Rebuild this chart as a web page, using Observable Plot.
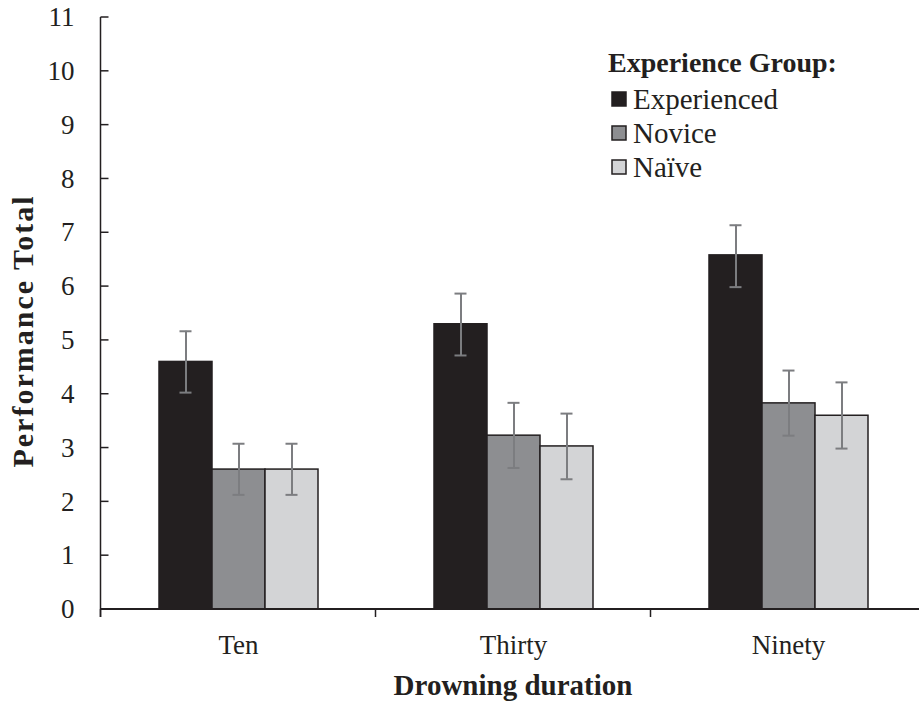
<!DOCTYPE html>
<html>
<head>
<meta charset="utf-8">
<script src="https://cdn.jsdelivr.net/npm/d3@7"></script>
<script src="https://cdn.jsdelivr.net/npm/@observablehq/plot@0.6"></script>
<style>
  html, body { margin: 0; padding: 0; background: #ffffff; }
  #chart { width: 919px; height: 702px; }
</style>
</head>
<body>
<div id="chart"></div>
<script>
// ---- data ----
const durations = ["Ten", "Thirty", "Ninety"];
const groups = ["Experienced", "Novice", "Naïve"];
const groupColors = ["#231f20", "#8d8e91", "#d3d4d6"];

const experiencedMean = [4.60, 5.30, 6.58];
const noviceMean      = [2.60, 3.23, 3.83];
const naiveMean       = [2.60, 3.03, 3.60];

const experiencedLow  = [4.03, 4.72, 5.99];
const experiencedHigh = [5.17, 5.87, 7.14];
const noviceLow       = [2.13, 2.63, 3.23];
const noviceHigh      = [3.08, 3.84, 4.44];
const naiveLow        = [2.13, 2.42, 2.99];
const naiveHigh       = [3.08, 3.64, 4.22];

const yTicks = [0, 1, 2, 3, 4, 5, 6, 7, 8, 9, 10, 11];

const yTitle = "Performance Total";
const xTitle = "Drowning duration";
const legendTitle = "Experience Group:";

// ---- table ----
const series = [
  [experiencedMean, experiencedLow, experiencedHigh],
  [noviceMean, noviceLow, noviceHigh],
  [naiveMean, naiveLow, naiveHigh]
];
const rows = [];
durations.forEach((d, i) => {
  groups.forEach((g, j) => {
    rows.push({duration: d, group: g, value: series[j][0][i], lo: series[j][1][i], hi: series[j][2][i]});
  });
});

const ink = "#231f20";
const errColor = "#7c7d80";
const serif = "'Liberation Serif', 'Times New Roman', serif";

const plot = Plot.plot({
  width: 919,
  height: 702,
  marginLeft: 101,
  marginRight: -7,
  marginTop: 17,
  marginBottom: 93,
  style: {fontFamily: serif, fontSize: "27px", color: ink, background: "#ffffff", overflow: "visible"},
  facet: {data: rows, x: "duration"},
  fx: {domain: durations, paddingInner: 0.418, paddingOuter: 0.209, label: null, axis: "bottom", tickSize: 0, tickPadding: 25},
  x: {domain: groups, padding: 0, axis: null},
  y: {domain: [0, 11], axis: null},
  color: {domain: groups, range: groupColors},
  marks: [
    Plot.barY(rows, {x: "group", y: "value", fill: "group", stroke: ink, strokeWidth: 1.5}),
    Plot.ruleX(rows, {x: "group", y1: "lo", y2: "hi", stroke: errColor, strokeWidth: 2}),
    Plot.tickY(rows, {x: "group", y: "lo", stroke: errColor, strokeWidth: 2, insetLeft: 20.5, insetRight: 20.5}),
    Plot.tickY(rows, {x: "group", y: "hi", stroke: errColor, strokeWidth: 2, insetLeft: 20.5, insetRight: 20.5})
  ]
});

document.getElementById("chart").appendChild(plot);

// ---- axes lines, ticks, titles and legend drawn from the plot's own scales ----
const svg = d3.select(plot);
const yS = plot.scale("y");
const fxS = plot.scale("fx");
const y = v => yS.apply(v);
const y0 = y(yTicks[0]);
const yTop = y(yTicks[yTicks.length - 1]);
const gap = (fxS.step - fxS.bandwidth) / 2;
const bounds = durations.map(d => fxS.apply(d) - gap);
bounds.push(fxS.apply(durations[durations.length - 1]) + fxS.bandwidth + gap);
const xLeft = bounds[0];
const xRight = bounds[bounds.length - 1];

const g = svg.append("g").attr("class", "custom-axes");
// y axis line
g.append("line").attr("x1", xLeft).attr("x2", xLeft).attr("y1", yTop).attr("y2", y0 + 8)
  .attr("stroke", ink).attr("stroke-width", 1.5);
// y ticks inward
g.selectAll(".ytk").data(yTicks).join("line")
  .attr("x1", xLeft).attr("x2", xLeft + 8)
  .attr("y1", d => y(d)).attr("y2", d => y(d))
  .attr("stroke", ink).attr("stroke-width", 1.5);
// y tick labels
g.selectAll(".ylab").data(yTicks).join("text")
  .attr("x", xLeft - 26).attr("y", d => y(d))
  .attr("dy", "0.34em")
  .attr("text-anchor", "end")
  .style("font-family", serif)
  .style("font-size", "27px")
  .attr("fill", ink)
  .text(d => String(d));
// x axis line
g.append("line").attr("x1", xLeft).attr("x2", xRight).attr("y1", y0).attr("y2", y0)
  .attr("stroke", ink).attr("stroke-width", 2);
// x ticks at category boundaries
g.selectAll(".xtk").data(bounds).join("line")
  .attr("x1", d => d).attr("x2", d => d).attr("y1", y0).attr("y2", y0 + 8)
  .attr("stroke", ink).attr("stroke-width", 1.5);

// titles
svg.append("text")
  .attr("transform", `translate(33,${(y0 + yTop) / 2 + 18}) rotate(-90)`)
  .attr("text-anchor", "middle")
  .style("font-family", serif).style("font-weight", "bold")
  .style("font-size", "30px").style("letter-spacing", "2px")
  .attr("fill", ink)
  .text(yTitle);

svg.append("text")
  .attr("x", (xLeft + xRight) / 2).attr("y", 695)
  .attr("text-anchor", "middle")
  .style("font-family", serif).style("font-weight", "bold")
  .style("font-size", "29px")
  .attr("fill", ink)
  .text(xTitle);

// legend
const colorS = plot.scale("color");
const lg = svg.append("g").attr("class", "custom-legend").attr("text-anchor", "start");
lg.append("text")
  .attr("x", 608).attr("y", 72)
  .attr("text-anchor", "start")
  .style("font-family", serif).style("font-weight", "bold")
  .style("font-size", "28px").attr("fill", ink)
  .text(legendTitle);
groups.forEach((grp, i) => {
  const base = 109 + i * 34;
  lg.append("rect")
    .attr("x", 612).attr("y", base - 17).attr("width", 14).attr("height", 14)
    .attr("fill", colorS.apply(grp)).attr("stroke", ink).attr("stroke-width", 1.5);
  lg.append("text")
    .attr("x", 633).attr("y", base)
    .attr("text-anchor", "start")
    .style("font-family", serif).style("font-weight", "normal")
    .style("font-size", "29px").attr("fill", ink)
    .text(grp);
});
</script>
</body>
</html>
